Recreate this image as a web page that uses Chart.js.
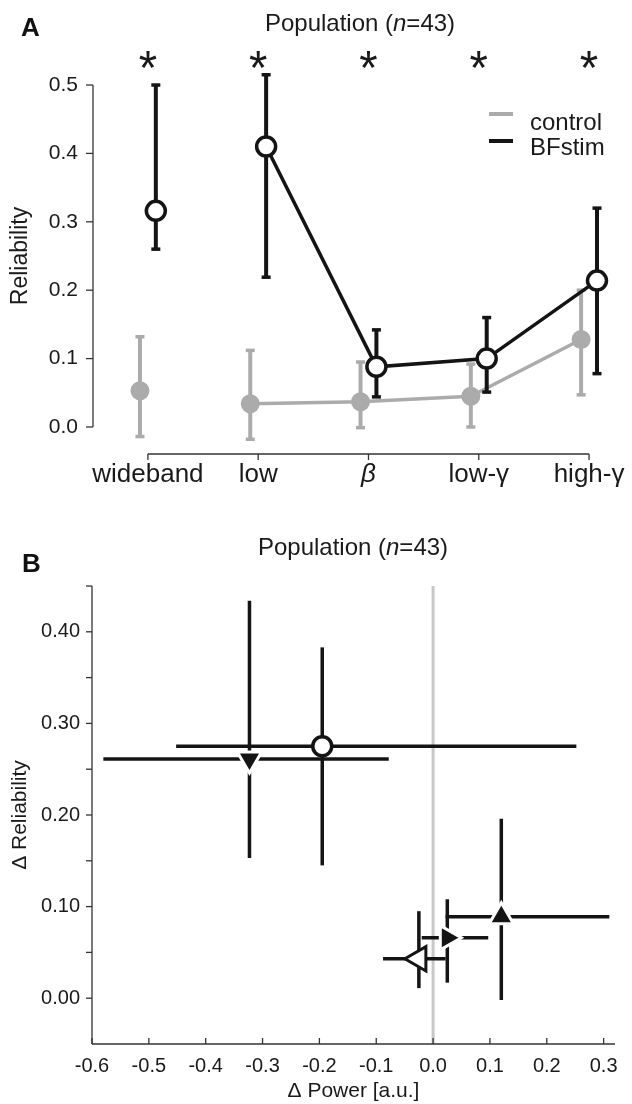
<!DOCTYPE html>
<html><head><meta charset="utf-8">
<script src="https://cdn.jsdelivr.net/npm/chart.js@4.4.1/dist/chart.umd.min.js"></script>
<style>html,body{margin:0;padding:0;background:#fff;}canvas{display:block;}</style>
</head><body>
<canvas id="panelA" width="632" height="520"></canvas>
<canvas id="panelB" width="632" height="584"></canvas>
<script>
// ---------- Panel A data ----------
const categories = ['wideband', 'low', 'β', 'low-γ', 'high-γ'];
const controlMean = [0.053, 0.034, 0.037, 0.045, 0.128];
const controlLo   = [-0.014, -0.018, -0.001, 0.000, 0.047];
const controlHi   = [0.132, 0.112, 0.095, 0.092, 0.200];
const bfstimMean  = [0.316, 0.410, 0.088, 0.100, 0.214];
const bfstimLo    = [0.260, 0.219, 0.044, 0.051, 0.078];
const bfstimHi    = [0.500, 0.515, 0.142, 0.160, 0.320];
const significant = [true, true, true, true, true];
const yTicksA = [0, 0.1, 0.2, 0.3, 0.4, 0.5];

// ---------- Panel B data ----------
const markerNames      = ['circle', 'triangle down', 'triangle left', 'triangle right', 'triangle up'];
const powerDelta       = [-0.195, -0.323, -0.025, 0.025, 0.120];
const powerLo          = [-0.452, -0.580, -0.088, -0.020, 0.022];
const powerHi          = [0.252, -0.078, 0.022, 0.097, 0.310];
const reliabilityDelta = [0.275, 0.261, 0.043, 0.066, 0.089];
const reliabilityLo    = [0.145, 0.153, 0.011, 0.017, -0.002];
const reliabilityHi    = [0.383, 0.434, 0.095, 0.108, 0.196];
const xTicksB = [-0.6, -0.5, -0.4, -0.3, -0.2, -0.1, 0.0, 0.1, 0.2, 0.3];
const yTicksB = [0, 0.05, 0.10, 0.15, 0.20, 0.25, 0.30, 0.35, 0.40, 0.45];

// ---------- styles ----------
const FONT = "'Liberation Sans', Arial, Helvetica, sans-serif";
const GREY = '#ababab', BLACK = '#141414', AXIS = '#333333', TEXT = '#1a1a1a', ZERO = '#c8c8c8';
const DODGE = 0.072;
const markerStyles = [
  {pointStyle: 'circle',   rotation: 0,   radius: 9.5, bg: '#ffffff', border: BLACK,     bw: 3.5},
  {pointStyle: 'triangle', rotation: 180, radius: 14,  bg: BLACK,     border: '#ffffff', bw: 3},
  {pointStyle: 'triangle', rotation: 270, radius: 14,  bg: '#ffffff', border: BLACK,     bw: 3},
  {pointStyle: 'triangle', rotation: 90,  radius: 14,  bg: BLACK,     border: '#ffffff', bw: 3},
  {pointStyle: 'triangle', rotation: 0,   radius: 14,  bg: BLACK,     border: '#ffffff', bw: 3}
];

function seg(ctx, x1, y1, x2, y2) { ctx.beginPath(); ctx.moveTo(x1, y1); ctx.lineTo(x2, y2); ctx.stroke(); }
function drawTitle(ctx, cx, baseline, parts, size) {
  let total = 0;
  const ws = parts.map(([t, it]) => { ctx.font = (it ? 'italic ' : '') + size + 'px ' + FONT; const w = ctx.measureText(t).width; total += w; return w; });
  let x = cx - total / 2;
  ctx.textAlign = 'left'; ctx.textBaseline = 'alphabetic'; ctx.fillStyle = TEXT;
  parts.forEach(([t, it], i) => { ctx.font = (it ? 'italic ' : '') + size + 'px ' + FONT; ctx.fillText(t, x, baseline); x += ws[i]; });
}
function drawAsterisk(ctx, cx, cy, targetH) {
  ctx.font = '100px ' + FONT;
  const m = ctx.measureText('*');
  const h = m.actualBoundingBoxAscent + m.actualBoundingBoxDescent;
  const size = 100 * targetH / h;
  ctx.font = size + 'px ' + FONT;
  const m2 = ctx.measureText('*');
  ctx.textAlign = 'center'; ctx.textBaseline = 'alphabetic'; ctx.fillStyle = TEXT;
  ctx.fillText('*', cx, cy + (m2.actualBoundingBoxAscent - m2.actualBoundingBoxDescent) / 2);
}
const titleParts = [['Population (', false], ['n', true], ['=43)', false]];

// ---------- Panel A ----------
const panelAPlugin = {
  id: 'panelAExtras',
  beforeDatasetDraw(chart, args) {
    const d = chart.data.datasets[args.index];
    if (!d.errLo) return;
    const {x, y} = chart.scales, ctx = chart.ctx;
    ctx.save(); ctx.strokeStyle = d.borderColor; ctx.lineCap = 'butt';
    d.data.forEach((p, i) => {
      const px = x.getPixelForValue(p.x), lo = y.getPixelForValue(d.errLo[i]), hi = y.getPixelForValue(d.errHi[i]);
      ctx.lineWidth = 4; seg(ctx, px, lo, px, hi);
      ctx.lineWidth = 3.5; seg(ctx, px - 4.5, lo, px + 4.5, lo); seg(ctx, px - 4.5, hi, px + 4.5, hi);
    });
    ctx.restore();
  },
  afterDraw(chart) {
    const {x, y} = chart.scales, ctx = chart.ctx, ca = chart.chartArea;
    ctx.save();
    ctx.strokeStyle = AXIS; ctx.lineWidth = 1.3;
    const yt = y.ticks.map(t => y.getPixelForValue(t.value));
    seg(ctx, ca.left, Math.min(...yt), ca.left, Math.max(...yt));
    yt.forEach(py => seg(ctx, ca.left - 7, py, ca.left, py));
    const xt = x.ticks.map(t => x.getPixelForValue(t.value));
    seg(ctx, Math.min(...xt), ca.bottom, Math.max(...xt), ca.bottom);
    xt.forEach(px => seg(ctx, px, ca.bottom, px, ca.bottom + 6));
    // significance stars
    significant.forEach((s, i) => { if (s) drawAsterisk(ctx, x.getPixelForValue(i), ca.top + 1, 17); });
    // legend
    chart.data.datasets.forEach((d, i) => {
      const ly = [114, 141][i], ty = [130, 155][i];
      ctx.strokeStyle = d.borderColor; ctx.lineWidth = 4;
      seg(ctx, 489, ly, 513, ly);
      ctx.fillStyle = TEXT; ctx.font = '24px ' + FONT; ctx.textAlign = 'left'; ctx.textBaseline = 'alphabetic';
      ctx.fillText(d.label, 530, ty);
    });
    // title + panel letter
    drawTitle(ctx, 360, 31, titleParts, 24);
    ctx.font = 'bold 26px ' + FONT; ctx.textAlign = 'left'; ctx.fillStyle = '#111';
    ctx.fillText('A', 21, 36);
    ctx.restore();
  }
};

new Chart(document.getElementById('panelA'), {
  type: 'line',
  data: {
    datasets: [
      {
        label: 'control', data: controlMean.map((v, i) => ({x: i - DODGE, y: v})),
        errLo: controlLo, errHi: controlHi,
        borderColor: GREY, backgroundColor: GREY, borderWidth: 3.5,
        pointRadius: 9.5, pointBackgroundColor: GREY, pointBorderColor: GREY, pointBorderWidth: 0,
        order: 2, clip: false,
        segment: {borderColor: c => c.p0DataIndex === 0 ? 'rgba(0,0,0,0)' : undefined}
      },
      {
        label: 'BFstim', data: bfstimMean.map((v, i) => ({x: i + DODGE, y: v})),
        errLo: bfstimLo, errHi: bfstimHi,
        borderColor: BLACK, backgroundColor: BLACK, borderWidth: 3.5,
        pointRadius: 9.5, pointBackgroundColor: '#ffffff', pointBorderColor: BLACK, pointBorderWidth: 3.5,
        order: 1, clip: false,
        segment: {borderColor: c => c.p0DataIndex === 0 ? 'rgba(0,0,0,0)' : undefined}
      }
    ]
  },
  options: {
    responsive: false, animation: false, events: [],
    layout: {padding: {left: 0, right: 12, top: 58, bottom: 26}},
    plugins: {legend: {display: false}, tooltip: {enabled: false}, title: {display: false}},
    scales: {
      x: {
        type: 'linear', min: -0.4977, max: 4.2715,
        grid: {display: false, drawTicks: false}, border: {display: false},
        afterBuildTicks: s => { s.ticks = categories.map((c, i) => ({value: i})); },
        ticks: {
          callback: v => categories[v], color: TEXT, padding: 5, maxRotation: 0, autoSkip: false,
          font: c => ({family: FONT, size: 26, style: (c.tick && c.tick.value === 2) ? 'italic' : 'normal'})
        },
        afterFit: s => { s.height = 40; }
      },
      y: {
        min: -0.0395, max: 0.5395,
        grid: {display: false, drawTicks: false}, border: {display: false},
        afterBuildTicks: s => { s.ticks = yTicksA.map(v => ({value: v})); },
        ticks: {callback: v => v.toFixed(1), color: TEXT, padding: 15, font: {family: FONT, size: 21}},
        title: {display: true, text: 'Reliability', color: TEXT, font: {family: FONT, size: 23}, padding: {top: 7, bottom: 0}},
        afterFit: s => { s.width = 93; }
      }
    }
  },
  plugins: [panelAPlugin]
});

// ---------- Panel B ----------
const panelBPlugin = {
  id: 'panelBExtras',
  afterDatasetDraw(chart, args) {
    if (args.index !== 0) return;
    const {x, y} = chart.scales, ctx = chart.ctx;
    ctx.save(); ctx.strokeStyle = BLACK; ctx.lineWidth = 3.5; ctx.lineCap = 'butt';
    powerDelta.forEach((pv, i) => {
      const px = x.getPixelForValue(pv), py = y.getPixelForValue(reliabilityDelta[i]);
      seg(ctx, x.getPixelForValue(powerLo[i]), py, x.getPixelForValue(powerHi[i]), py);
      seg(ctx, px, y.getPixelForValue(reliabilityLo[i]), px, y.getPixelForValue(reliabilityHi[i]));
    });
    ctx.restore();
  },
  afterDraw(chart) {
    const {x, y} = chart.scales, ctx = chart.ctx, ca = chart.chartArea;
    ctx.save();
    ctx.strokeStyle = AXIS; ctx.lineWidth = 1.3;
    seg(ctx, ca.left, ca.top, ca.left, ca.bottom);
    seg(ctx, ca.left, ca.bottom, ca.right, ca.bottom);
    y.ticks.forEach(t => { const py = y.getPixelForValue(t.value); seg(ctx, ca.left - 6, py, ca.left, py); });
    x.ticks.forEach(t => { const px = x.getPixelForValue(t.value); seg(ctx, px, ca.bottom, px, ca.bottom - 6); });
    drawTitle(ctx, 353, 35, titleParts, 24);
    ctx.font = 'bold 26px ' + FONT; ctx.textAlign = 'left'; ctx.fillStyle = '#111';
    ctx.fillText('B', 22, 52);
    ctx.restore();
  }
};

const bDatasets = [{
  type: 'line', label: 'zero power change',
  data: [{x: 0, y: -0.05}, {x: 0, y: 0.45}],
  borderColor: ZERO, borderWidth: 3, pointRadius: 0, order: 10, clip: false
}];
powerDelta.forEach((pv, i) => {
  const st = markerStyles[i];
  bDatasets.push({
    label: markerNames[i], data: [{x: pv, y: reliabilityDelta[i]}],
    pointStyle: st.pointStyle, rotation: st.rotation, pointRadius: st.radius,
    backgroundColor: st.bg, borderColor: st.border, borderWidth: st.bw,
    order: 1, clip: false
  });
});

new Chart(document.getElementById('panelB'), {
  type: 'scatter',
  data: {datasets: bDatasets},
  options: {
    responsive: false, animation: false, events: [],
    layout: {padding: {left: 0, right: 16, top: 66, bottom: 0}},
    plugins: {legend: {display: false}, tooltip: {enabled: false}, title: {display: false}},
    scales: {
      x: {
        type: 'linear', min: -0.6, max: 0.32,
        grid: {display: false, drawTicks: false}, border: {display: false},
        afterBuildTicks: s => { s.ticks = xTicksB.map(v => ({value: v})); },
        ticks: {callback: v => v.toFixed(1), color: TEXT, padding: 10, maxRotation: 0, autoSkip: false, font: {family: FONT, size: 20}},
        title: {display: true, text: 'Δ Power [a.u.]', color: TEXT, font: {family: FONT, size: 21}, padding: {top: 0, bottom: 0}},
        afterFit: s => { s.height = 60; }
      },
      y: {
        type: 'linear', min: -0.05, max: 0.45,
        grid: {display: false, drawTicks: false}, border: {display: false},
        afterBuildTicks: s => { s.ticks = yTicksB.map(v => ({value: v})); },
        ticks: {
          callback: v => (Math.abs(v * 10 - Math.round(v * 10)) < 1e-6 ? v.toFixed(2) : ''),
          color: TEXT, padding: 12, autoSkip: false, font: {family: FONT, size: 20}
        },
        title: {display: true, text: 'Δ Reliability', color: TEXT, font: {family: FONT, size: 21}, padding: {top: 8, bottom: 0}},
        afterFit: s => { s.width = 92; }
      }
    }
  },
  plugins: [panelBPlugin]
});
</script>
</body></html>
